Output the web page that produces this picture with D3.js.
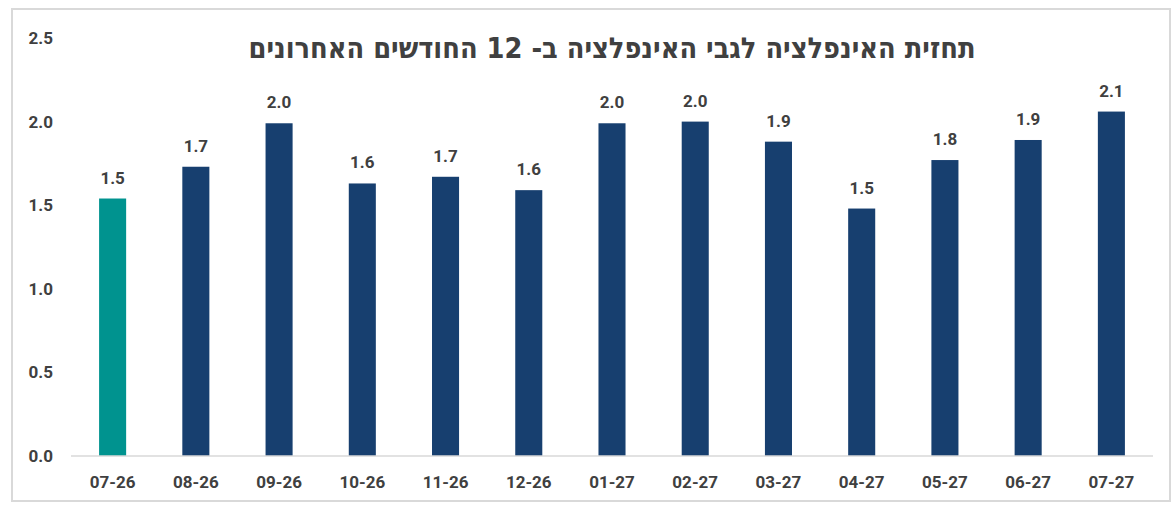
<!DOCTYPE html>
<html lang="he">
<head>
<meta charset="utf-8">
<script src="https://cdn.jsdelivr.net/npm/d3@7"></script>
<style>
  html, body { margin: 0; padding: 0; background: #fff; }
</style>
</head>
<body>
<svg id="chart"></svg>
<script>
// נתונים
const months = ["07-26", "08-26", "09-26", "10-26", "11-26", "12-26", "01-27", "02-27", "03-27", "04-27", "05-27", "06-27", "07-27"];
const values = [1.54, 1.73, 1.99, 1.63, 1.67, 1.59, 1.99, 2.0, 1.88, 1.48, 1.77, 1.89, 2.06];
const labels = ["1.5", "1.7", "2.0", "1.6", "1.7", "1.6", "2.0", "2.0", "1.9", "1.5", "1.8", "1.9", "2.1"];
const yTicks = [0, 0.5, 1.0, 1.5, 2.0, 2.5];
const title = "תחזית האינפלציה לגבי האינפלציה ב- 12 החודשים האחרונים";

const width = 1176, height = 516;
const margin = { top: 38, right: 23, bottom: 60, left: 71 };

const svg = d3.select("#chart")
  .attr("width", width)
  .attr("height", height)
  .attr("viewBox", [0, 0, width, height]);

// מסגרת
svg.append("rect")
  .attr("x", 12).attr("y", 9)
  .attr("width", 1158).attr("height", 492)
  .attr("fill", "#fff")
  .attr("stroke", "#d9d9d9")
  .attr("stroke-width", 2);

const x = d3.scaleBand()
  .domain(months)
  .range([margin.left, width - margin.right])
  .paddingInner(0.675)
  .paddingOuter(0.3375);

const y = d3.scaleLinear()
  .domain([0, 2.5])
  .range([height - margin.bottom, margin.top]);

const font = "bold 17px Roboto, 'Liberation Sans', sans-serif";

// ציר Y - טקסט בלבד
svg.append("g")
  .attr("transform", `translate(53,0)`)
  .call(d3.axisLeft(y).tickValues(yTicks).tickFormat(d3.format(".1f")).tickSize(0).tickPadding(0))
  .call(g => g.select(".domain").remove())
  .selectAll("text")
  .attr("fill", "#404040")
  .style("font", font);

// עמודות
svg.append("g")
  .selectAll("rect")
  .data(values)
  .join("rect")
  .attr("x", (d, i) => x(months[i]))
  .attr("y", d => y(d))
  .attr("width", x.bandwidth())
  .attr("height", d => y(0) - y(d))
  .attr("fill", (d, i) => i == 0 ? "#00938f" : "#173f6f");

// קו בסיס
svg.append("line")
  .attr("x1", margin.left).attr("x2", width - margin.right)
  .attr("y1", y(0)).attr("y2", y(0))
  .attr("stroke", "#d9d9d9")
  .attr("stroke-width", 1.5);

// תוויות ערכים
svg.append("g")
  .attr("text-anchor", "middle")
  .attr("fill", "#404040")
  .style("font", font)
  .selectAll("text")
  .data(values)
  .join("text")
  .attr("x", (d, i) => x(months[i]) + x.bandwidth() / 2)
  .attr("y", d => y(d) - 15)
  .text((d, i) => labels[i]);

// ציר X
svg.append("g")
  .attr("transform", `translate(0,${y(0)})`)
  .call(d3.axisBottom(x).tickSize(0).tickPadding(20))
  .call(g => g.select(".domain").remove())
  .selectAll("text")
  .attr("fill", "#404040")
  .style("font", font);

// כותרת
svg.append("text")
  .attr("x", 612)
  .attr("y", 58)
  .attr("text-anchor", "middle")
  .attr("direction", "rtl")
  .attr("fill", "#404040")
  .attr("textLength", 727)
  .attr("lengthAdjust", "spacingAndGlyphs")
  .style("font", "bold 29px 'DejaVu Sans', sans-serif")
  .text(title);
</script>
</body>
</html>
